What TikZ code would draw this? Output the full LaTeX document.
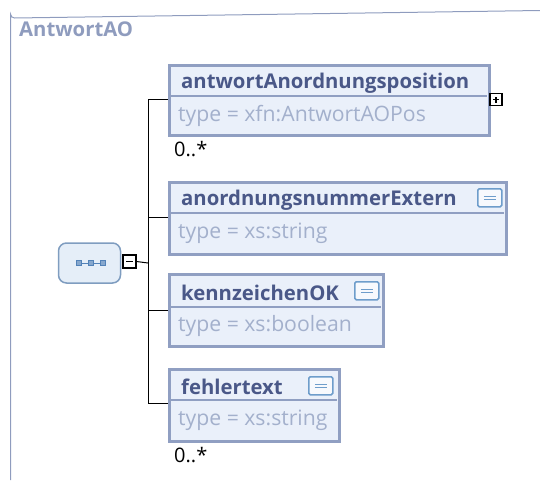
\documentclass[tikz,border=0pt]{standalone}
\usepackage{fontspec}
\setmainfont{Open Sans}
\definecolor{frameC}{HTML}{8F9CBE}
\definecolor{boxB}{HTML}{909FC2}
\definecolor{boxF}{HTML}{EAF0FA}
\definecolor{headT}{HTML}{4A5888}
\definecolor{typeT}{HTML}{A3B0CC}
\definecolor{seqB}{HTML}{7F9DC0}
\definecolor{seqF}{HTML}{E5EEF8}
\definecolor{seqD}{HTML}{5282B8}
\definecolor{docB}{HTML}{6E9DCB}
\begin{document}
\begin{tikzpicture}[x=1pt,y=-1pt,
  elbox/.style={draw=boxB,fill=boxF,line width=3pt,rectangle,anchor=north west,inner sep=0pt},
  headtext/.style={text=headT,font=\fontsize{20.3}{24}\selectfont\bfseries,anchor=west,inner sep=0pt},
  typetext/.style={text=typeT,font=\fontsize{21.2}{25}\selectfont,anchor=west,inner sep=0pt},
  divider/.style={draw=boxB,line width=1.2pt},
  conn/.style={draw=black,line width=1pt},
  card/.style={text=black,font=\fontsize{20}{24}\selectfont,anchor=west,inner sep=0pt},
  pmbox/.style={draw=black,fill=white,line width=1.2pt,minimum width=13pt,minimum height=13pt,inner sep=0pt},
  docicon/.style={draw=docB,fill=white!60!boxF,line width=1.5pt,rounded corners=1.5pt,minimum width=24pt,minimum height=18pt,inner sep=0pt,anchor=north west},
  dsq/.style={draw=seqD,fill=seqD!70,line width=0.6pt,minimum size=4.5pt,inner sep=0pt}
]
\useasboundingbox (0,0) rectangle (540,480);
% outer frame
\draw[frameC,line width=1pt] (10.5,480) -- (10.5,14) arc[start angle=180,end angle=90,radius=4] -- (540,10.5);
\node[text=frameC,font=\fontsize{20.3}{24}\selectfont\bfseries,anchor=west,inner sep=0pt] (title) at (19,29) {AntwortAO};

% sequence node
\node[draw=seqB,fill=seqF,line width=1.5pt,rounded corners=8pt,minimum width=62pt,minimum height=40pt,inner sep=0pt] (seq) at (89.5,263) {};
\node[dsq] (s1) at (79,263) {};
\node[dsq] (s2) at (91,263) {};
\node[dsq] (s3) at (103,263) {};
\draw[seqD,line width=0.6pt] (s1) -- (s2) (s2) -- (s3);
\node[pmbox] (minus) at (129.5,261.5) {};
\draw[black,line width=1.2pt] ([xshift=-3.5pt]minus.center) -- ([xshift=3.5pt]minus.center);

% spine
\coordinate (bus) at (148,263);
\coordinate (top) at (148,99);
\coordinate (bot) at (148,403);
\draw[conn] (minus.east) -- (bus);
\draw[conn] (top) -- (bot);

% element 1
\node[elbox,minimum width=320pt,minimum height=70pt] (e1) at (168,64) {};
\draw[divider] (169.5,96) -- (486.5,96);
\node[headtext] (e1h) at (181,83.5) {antwortAnordnungsposition};
\node[typetext] (e1t) at (178,116) {type = xfn:AntwortAOPos};
\node[card] (c1) at (174,149) {0..*};
\node[pmbox,minimum width=12pt,minimum height=12pt] (plus) at (496,99.5) {};
\draw[black,line width=1.2pt] ([xshift=-3pt]plus.center) -- ([xshift=3pt]plus.center) ([yshift=-3pt]plus.center) -- ([yshift=3pt]plus.center);
\draw[conn] (top) -- (e1.west |- top);

% element 2
\node[elbox,minimum width=337pt,minimum height=72pt] (e2) at (168,181) {};
\draw[divider] (169.5,213) -- (503.5,213);
\node[headtext] (e2h) at (181,200.5) {anordnungsnummerExtern};
\node[typetext] (e2t) at (178,233) {type = xs:string};
\node[docicon] (d2) at (477,188) {};
\draw[docB,line width=1pt] ([xshift=-6pt,yshift=-1.5pt]d2.center) -- ([xshift=6pt,yshift=-1.5pt]d2.center) ([xshift=-6pt,yshift=1.5pt]d2.center) -- ([xshift=6pt,yshift=1.5pt]d2.center);
\coordinate (j2) at (148,217);
\draw[conn] (j2) -- (e2.west |- j2);

% element 3
\node[elbox,minimum width=214pt,minimum height=72pt] (e3) at (168,273) {};
\draw[divider] (169.5,307) -- (380.5,307);
\node[headtext] (e3h) at (181,292.5) {kennzeichenOK};
\node[typetext] (e3t) at (178,326) {type = xs:boolean};
\node[docicon] (d3) at (354,281) {};
\draw[docB,line width=1pt] ([xshift=-6pt,yshift=-1.5pt]d3.center) -- ([xshift=6pt,yshift=-1.5pt]d3.center) ([xshift=-6pt,yshift=1.5pt]d3.center) -- ([xshift=6pt,yshift=1.5pt]d3.center);
\coordinate (j3) at (148,310);
\draw[conn] (j3) -- (e3.west |- j3);

% element 4
\node[elbox,minimum width=170pt,minimum height=72pt] (e4) at (168,368) {};
\draw[divider] (169.5,400) -- (336.5,400);
\node[headtext] (e4h) at (181,386.5) {fehlertext};
\node[typetext] (e4t) at (178,420) {type = xs:string};
\node[docicon] (d4) at (308,376) {};
\draw[docB,line width=1pt] ([xshift=-6pt,yshift=-1.5pt]d4.center) -- ([xshift=6pt,yshift=-1.5pt]d4.center) ([xshift=-6pt,yshift=1.5pt]d4.center) -- ([xshift=6pt,yshift=1.5pt]d4.center);
\node[card] (c4) at (174,455) {0..*};
\draw[conn] (bot) -- (e4.west |- bot);
\end{tikzpicture}
\end{document}
